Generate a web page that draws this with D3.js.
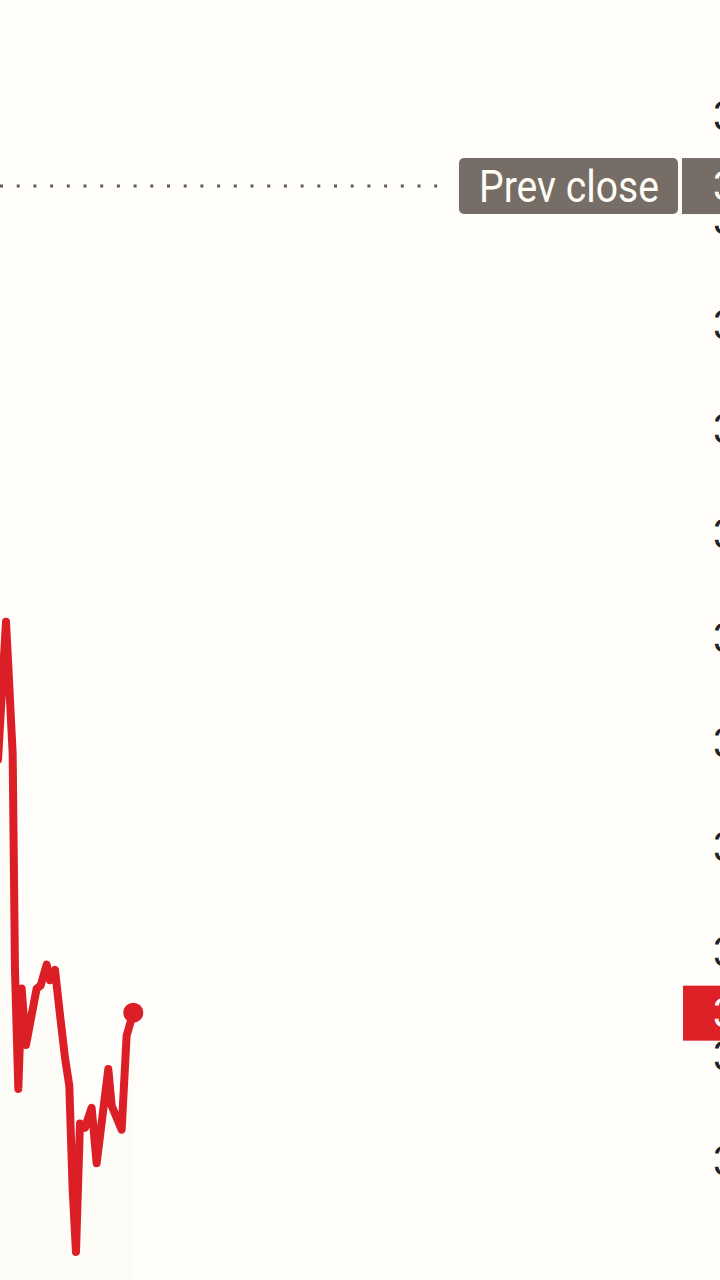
<!DOCTYPE html>
<html><head><meta charset="utf-8">
<script src="https://cdn.jsdelivr.net/npm/d3@7/dist/d3.min.js"></script>
<style>html,body{margin:0;padding:0;background:#fffefb;overflow:hidden}</style>
</head><body><svg id="c" width="720" height="1280"></svg>
<script>
// minutes into the session (visible window) and price
const times  = [-0.6,1.8,2.5,3.8,4.5,5.5,6.5,7.8,9.5,11,12.2,14,15,16.5,18,19.5,20.8,21.8,22.8,24,25.5,27.5,29,32.5,33.5,36.5,38,40];
const prices = [338.83,340.15,339.72,338.89,336.81,335.68,336.64,336.10,336.39,336.64,336.67,336.87,336.72,336.82,336.39,335.98,335.71,334.72,334.12,335.35,335.31,335.50,334.97,335.87,335.52,335.29,336.19,336.41];
const yTicks = [345,344,343,342,341,340,339,338,337,336,335];
const yTickLabels = ["345.00","344.00","343.00","342.00","341.00","340.00","339.00","338.00","337.00","336.00","335.00"];
const prevClose = 344.32;
const prevCloseLabel = "Prev close";
const lastLabel = "336.41";

const svg = d3.select("#c");
const x = d3.scaleLinear().domain([0,40]).range([0,133.3]);
const y = d3.scaleLinear().domain([345,335]).range([115,1160]);
const data = times.map((t,i)=>({t,p:prices[i]}));

svg.append("rect").attr("width",720).attr("height",1280).attr("fill","#fffefb");

// faint area
svg.append("path").datum(data)
  .attr("d", d3.area().x(d=>x(d.t)).y0(1280).y1(d=>y(d.p)))
  .attr("fill","#f9f3e6").attr("opacity",0.2);

// y axis labels (cut off at right edge)
const ax = svg.append("g").attr("transform","translate(713,0)")
  .call(d3.axisRight(y).tickValues(yTicks).tickSize(0).tickPadding(0).tickFormat((d,i)=>yTickLabels[i]));
ax.select(".domain").remove();
ax.selectAll("text").attr("font-family","Roboto").attr("font-size",40).attr("fill","#222").attr("dy","0.36em");

// prev close dotted line
svg.append("line").attr("x1",0).attr("x2",446).attr("y1",y(prevClose)).attr("y2",y(prevClose))
  .attr("stroke","#5e5a57").attr("stroke-width",3).attr("stroke-dasharray","3 13.7").attr("stroke-linecap","butt");

// prev close label
const pc = svg.append("g");
pc.append("rect").attr("x",459).attr("y",y(prevClose)-28).attr("width",219).attr("height",56).attr("rx",5).attr("fill","#766d66");
pc.append("text").attr("x",479).attr("y",y(prevClose)+16).attr("font-family","Roboto").attr("font-size",44)
  .attr("textLength",180).attr("lengthAdjust","spacingAndGlyphs").attr("fill","#fffdf6").text(prevCloseLabel);
pc.append("rect").attr("x",682).attr("y",y(prevClose)-28).attr("width",60).attr("height",56).attr("fill","#766d66");
pc.append("text").attr("x",713).attr("y",y(prevClose)).attr("dy","0.36em").attr("font-family","Roboto").attr("font-size",40)
  .attr("fill","#fffdf6").text(prevClose.toFixed(2));

// line
svg.append("path").datum(data)
  .attr("d", d3.line().x(d=>x(d.t)).y(d=>y(d.p)))
  .attr("fill","none").attr("stroke","#dc1f27").attr("stroke-width",8).attr("stroke-linejoin","round").attr("stroke-linecap","round");
const last = data[data.length-1];
svg.append("circle").attr("cx",x(last.t)).attr("cy",y(last.p)).attr("r",10).attr("fill","#dc1f27");

// last price label
svg.append("rect").attr("x",683).attr("y",y(last.p)-27).attr("width",60).attr("height",55).attr("fill","#dd2127");
svg.append("text").attr("x",713).attr("y",y(last.p)).attr("dy","0.36em").attr("font-family","Roboto").attr("font-size",40)
  .attr("fill","#fff").text(lastLabel);
</script></body></html>
